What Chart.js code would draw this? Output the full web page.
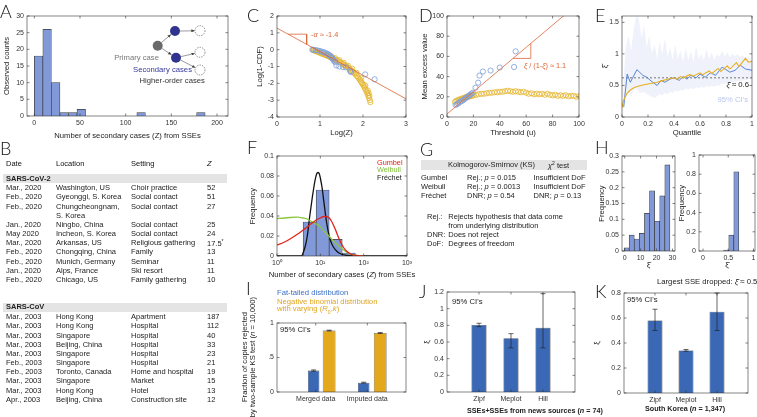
<!DOCTYPE html>
<html>
<head>
<meta charset="utf-8">
<script src="https://cdn.jsdelivr.net/npm/chart.js@4.4.1/dist/chart.umd.min.js"></script>
<style>
  body { margin: 0; background: #fff; }
  #fig { position: relative; width: 757px; height: 417px; overflow: hidden; font-family: "Liberation Sans", Arial, sans-serif; color: #222; }
  #fig canvas { position: absolute; }
  .t { position: absolute; white-space: nowrap; line-height: 1; }
  .lt { position: absolute; font-family: Lato, "Liberation Sans", sans-serif; font-weight: 300; font-size: 18px; line-height: 1; color: #111; }
  .band { position: absolute; background: #e4e4e4; }
</style>
</head>
<body>
<div id="fig"></div>
<script>
// ========= Data =========
// A: histogram of secondary cases
const aBinCenters = [4.7, 14.0, 23.4, 32.7, 42.1, 51.4, 60.8, 70.1, 79.5, 88.8, 98.2, 107.5, 116.9, 126.2, 135.6, 144.9, 154.3, 163.6, 173.0, 182.3];
const aCounts = [18, 26, 10, 1, 1, 2, 0, 0, 0, 0, 0, 0, 1, 0, 0, 0, 0, 0, 0, 1];

// C: log-log survival
const cDataX = [0.82, 0.85, 0.9, 0.95, 1.0, 1.04, 1.08, 1.11, 1.15, 1.18, 1.2, 1.23, 1.26, 1.28, 1.3, 1.32, 1.34, 1.36, 1.38, 1.45, 1.53, 1.6, 1.7, 1.72, 2.05, 2.27];
const cDataY = [0, -0.01, -0.03, -0.05, -0.08, -0.12, -0.15, -0.18, -0.22, -0.26, -0.3, -0.35, -0.42, -0.5, -0.56, -0.63, -0.7, -0.75, -0.93, -1.0, -1.03, -1.05, -1.27, -1.33, -1.47, -1.76];
const cNbX = [0.84, 0.86, 0.88, 0.90, 0.93, 0.96, 0.99, 1.02, 1.05, 1.08, 1.11, 1.14, 1.17, 1.20, 1.23, 1.26, 1.29, 1.32, 1.35, 1.38, 1.41, 1.44, 1.47, 1.50, 1.53, 1.56, 1.59, 1.62, 1.65, 1.68, 1.71, 1.74, 1.77, 1.80, 1.83, 1.86, 1.89, 1.92, 1.94, 1.96, 1.98, 2.00, 2.02, 2.04, 2.06, 2.08, 2.10, 2.12, 2.14, 2.16, 2.17,
  1.25, 1.35, 1.45, 1.55, 1.65, 1.75, 1.85, 1.95, 2.05, 2.11, 2.13, 2.15];
const cNbY = [-0.02, -0.04, -0.06, -0.08, -0.11, -0.14, -0.18, -0.21, -0.24, -0.27, -0.30, -0.33, -0.36, -0.40, -0.43, -0.47, -0.51, -0.55, -0.59, -0.63, -0.67, -0.71, -0.75, -0.80, -0.85, -0.90, -0.95, -1.00, -1.06, -1.12, -1.19, -1.26, -1.33, -1.40, -1.48, -1.57, -1.66, -1.76, -1.84, -1.92, -2.00, -2.08, -2.17, -2.27, -2.37, -2.48, -2.60, -2.73, -2.87, -3.00, -3.12,
  -0.38, -0.50, -0.62, -0.78, -0.95, -1.13, -1.38, -1.70, -2.12, -2.42, -2.58, -2.75];
const cFitX = [0, 3];
const cFitB = 1.28, cFitM = -1.4;
const cTriX = [0.26, 0.69, 0.69];
const cTriY = [0.92, 0.92, 0.31];

// D: mean excess plot
const dDataX = [6.5, 7.5, 8.5, 9.5, 10.5, 11.5, 12.5, 13.5, 14.5, 15.5, 16.5, 17.5, 18.5, 19.5, 21.6, 23.6, 24.6, 27.2, 33, 40, 50.8, 52];
const dDataY = [12, 12.5, 13.5, 14.5, 15.5, 16, 17, 18, 19, 20, 21, 22, 23, 24, 29, 34, 41, 45, 46, 49, 49.5, 65];
const dNbX = [6, 7, 8, 9, 10, 11, 12, 13, 14, 15, 16, 17, 18, 19, 20, 22, 24, 26, 28, 30, 32, 34, 36, 38, 40, 42, 44, 46, 48, 50, 52, 54, 56, 58, 60, 62, 64, 66, 68, 70, 72, 74, 76, 78, 80, 82, 84, 86, 88, 90, 92, 94, 96, 98, 100];
const dNbY = [15, 16, 16.5, 17, 17.5, 18, 18.5, 19, 19.5, 20, 20, 20.5, 21, 21, 21.5, 22, 22.5, 23, 23, 23.5, 24, 24, 24.5, 24.5, 25, 25, 25.5, 26, 25.5, 25, 25.5, 25, 24.5, 25, 24, 23, 23.5, 22.5, 23, 22.5, 23, 22, 23, 22, 21.5, 22, 21, 21.5, 21, 21.5, 20.5, 21, 21, 20, 20.5];
const dFitX = [0, 100];
const dFitB = 3, dFitM = 1.1;
const dTriX = [50, 63.5, 63.5];
const dTriY = [58, 58, 72.85];

// E: xi estimates by quantile
const eCiQ = [0.01, 0.03, 0.05, 0.07, 0.09, 0.11, 0.13, 0.15, 0.17, 0.19, 0.21, 0.23, 0.25, 0.27, 0.29, 0.31, 0.33, 0.35, 0.37, 0.39, 0.41, 0.43, 0.45, 0.47, 0.49, 0.51, 0.53, 0.55, 0.57, 0.59, 0.61, 0.63, 0.65, 0.67, 0.69, 0.71, 0.73, 0.75, 0.77, 0.79, 0.81, 0.83, 0.85, 0.87, 0.89, 0.91, 0.93, 0.95, 0.97, 1.0];
const eCiHi = [0.55, 1.1, 1.3, 1.05, 1.4, 1.6, 1.55, 1.25, 1.45, 1.1, 1.3, 1.0, 1.15, 0.92, 1.2, 1.0, 1.25, 0.95, 1.1, 0.9, 1.15, 0.92, 1.05, 0.88, 1.1, 0.9, 1.05, 0.88, 1.12, 0.92, 1.0, 0.9, 1.08, 0.92, 1.02, 0.9, 1.0, 0.95, 1.05, 0.96, 1.02, 0.95, 1.0, 0.96, 1.0, 0.95, 0.98, 0.93, 0.95, 0.9];
const eCiLo = [0.05, 0.3, 0.38, 0.33, 0.42, 0.45, 0.4, 0.38, 0.4, 0.36, 0.34, 0.32, 0.3, 0.33, 0.36, 0.34, 0.38, 0.36, 0.4, 0.38, 0.42, 0.4, 0.43, 0.41, 0.45, 0.43, 0.46, 0.44, 0.47, 0.45, 0.48, 0.46, 0.49, 0.47, 0.5, 0.48, 0.5, 0.5, 0.53, 0.52, 0.55, 0.54, 0.56, 0.55, 0.58, 0.57, 0.58, 0.58, 0.6, 0.6];
const eHillQ = [0.013, 0.04, 0.064, 0.115, 0.16, 0.19, 0.23, 0.27, 0.3, 0.33, 0.37, 0.4, 0.44, 0.47, 0.5, 0.53, 0.57, 0.6, 0.64, 0.68, 0.72, 0.77, 0.83, 0.87, 0.91, 0.95, 1.0];
const eHill = [0.16, 0.68, 0.55, 0.75, 0.66, 0.63, 0.56, 0.5, 0.58, 0.55, 0.6, 0.62, 0.58, 0.64, 0.6, 0.66, 0.62, 0.68, 0.63, 0.7, 0.66, 0.79, 0.71, 0.74, 0.82, 0.76, 0.74];
const eZipfQ = [0, 0.01, 0.02, 0.04, 0.06, 0.08, 0.1, 0.13, 0.17, 0.22, 0.27, 0.32, 0.37, 0.4, 0.42, 0.45, 0.47, 0.52, 0.55, 0.6, 0.62, 0.67, 0.69, 0.74, 0.76, 0.81, 0.83, 0.88, 0.9, 0.95, 0.97, 1.0];
const eZipf = [0.15, 0.25, 0.3, 0.38, 0.42, 0.45, 0.47, 0.49, 0.51, 0.53, 0.55, 0.58, 0.61, 0.62, 0.6, 0.64, 0.62, 0.67, 0.65, 0.7, 0.67, 0.73, 0.69, 0.77, 0.72, 0.81, 0.76, 0.86, 0.8, 0.93, 0.87, 0.88];
const eXiX = [0, 1];
const xiHat = 0.62;

// F: fitted extreme value distributions
const fBinX = [5.66, 11.3, 22.6, 45.3];
const fBinF = [0.034, 0.066, 0.0166, 0.003];
const fGumX = [1, 1.5, 2, 3, 4, 5, 6, 7, 8, 10, 12, 14, 16, 18, 20, 23, 26, 30, 35, 40, 50, 60, 80, 100];
const fGumY = [0.011, 0.014, 0.017, 0.022, 0.026, 0.029, 0.032, 0.034, 0.036, 0.038, 0.0395, 0.0395, 0.038, 0.035, 0.031, 0.025, 0.019, 0.013, 0.008, 0.005, 0.002, 0.0008, 0.0002, 0];
const fWeiX = [1, 1.5, 2, 3, 4, 5, 6, 8, 10, 12, 15, 20, 25, 30, 40, 50, 70, 100];
const fWeiY = [0.0375, 0.038, 0.0385, 0.0388, 0.038, 0.037, 0.035, 0.032, 0.029, 0.025, 0.021, 0.015, 0.011, 0.008, 0.004, 0.002, 0.0005, 0];
const fFreX = [1, 3, 3.7, 4, 4.5, 5, 5.7, 6.5, 7.5, 8.2, 8.9, 9.5, 10, 11, 12, 13, 14, 16, 18, 20, 25, 30, 40, 60, 100, 1000];
const fFreY = [0, 0, 0, 0.003, 0.01, 0.02, 0.04, 0.058, 0.075, 0.082, 0.0835, 0.082, 0.078, 0.068, 0.055, 0.043, 0.033, 0.02, 0.013, 0.009, 0.004, 0.002, 0.0006, 0.0001, 0, 0];
const fTicks = [1, 10, 100, 1000];
const fTickLabels = ['10⁰', '10¹', '10²', '10³'];

// H: bootstrap xi histograms
const hLeftX = [1.2, 4.4, 7.6, 10.8, 14, 17.2, 20.4, 23.6, 26.8];
const hLeftF = [0.01, 0.05, 0.038, 0.056, 0.119, 0.19, 0.094, 0.174, 0.272];
const hRightX = [0.46, 0.56, 0.66];
const hRightF = [0.01, 0.165, 0.825];

// I: KS rejection fractions
const iNames = ['Merged data', 'Imputed data'];
const iTicks = [1, 2];
const iBlueX = [0.96, 1.93], iBlue = [0.31, 0.135], iBlueLo = [0.30, 0.128], iBlueHi = [0.32, 0.142];
const iGoldX = [1.26, 2.25], iGold = [0.89, 0.855], iGoldLo = [0.884, 0.849], iGoldHi = [0.896, 0.861];

// J, K: xi by estimator
const estNames = ['Zipf', 'Meplot', 'Hill'];
const estX = [1, 2, 3];
const jVal = [0.805, 0.645, 0.77], jLo = [0.785, 0.53, 0.53], jHi = [0.825, 0.70, 1.18];
const kVal = [0.58, 0.34, 0.65], kLo = [0.50, 0.334, 0.50], kHi = [0.67, 0.348, 0.80];

// B table
const bHead = ['Date', 'Location', 'Setting', '<i>Z</i>'];
const bCov2 = [
  ['Mar., 2020', 'Washington, US', 'Choir practice', '52'],
  ['Feb., 2020', 'Gyeonggi, S. Korea', 'Social contact', '51'],
  ['Feb., 2020', 'Chungcheongnam,', 'Social contact', '27'],
  ['', 'S. Korea', '', ''],
  ['Jan., 2020', 'Ningbo, China', 'Social contact', '25'],
  ['May 2020', 'Incheon, S. Korea', 'Social contact', '24'],
  ['Mar., 2020', 'Arkansas, US', 'Religious gathering', '17.5<sup style="font-size:5px">*</sup>'],
  ['Feb., 2020', 'Chongqing, China', 'Family', '13'],
  ['Feb., 2020', 'Munich, Germany', 'Seminar', '11'],
  ['Jan., 2020', 'Alps, France', 'Ski resort', '11'],
  ['Feb., 2020', 'Chicago, US', 'Family gathering', '10']
];
const bCov1 = [
  ['Mar., 2003', 'Hong Kong', 'Apartment', '187'],
  ['Mar., 2003', 'Hong Kong', 'Hospital', '112'],
  ['Mar., 2003', 'Singapore', 'Hospital', '40'],
  ['Mar., 2003', 'Beijing, China', 'Hospital', '33'],
  ['Mar., 2003', 'Singapore', 'Hospital', '23'],
  ['Feb., 2003', 'Singapore', 'Hospital', '21'],
  ['Feb., 2003', 'Toronto, Canada', 'Home and hospital', '19'],
  ['Mar., 2003', 'Singapore', 'Market', '15'],
  ['Mar., 2003', 'Hong Kong', 'Hotel', '13'],
  ['Apr., 2003', 'Beijing, China', 'Construction site', '12']
];

// ========= Helpers =========
Chart.defaults.font.family = '"Liberation Sans", Arial, sans-serif';
Chart.defaults.font.size = 7;
Chart.defaults.color = '#333';

const fig = document.getElementById('fig');
const HIST = '#8199d8', EDGE = '#3c3c3c', BLUE = '#3a68b4', GOLD = '#e3a81c', RED = '#dd6436';
const pts = (xs, ys) => xs.map((x, i) => ({ x, y: ys[i] }));
const line = (xs, b, m) => xs.map(x => ({ x, y: b + m * x }));

function ax(min, max, step, names) {
  const a = {
    type: 'linear', min, max, offset: false,
    grid: { display: false, drawTicks: false }, border: { display: false },
    ticks: { stepSize: step, includeBounds: false, padding: 3, maxRotation: 0, autoSkip: false,
      callback: v => String(+(+v).toFixed(4)) }
  };
  // fixed tick positions with text labels (bar categories)
  if (names) {
    a.afterBuildTicks = s => { s.ticks = names[0].map(v => ({ value: v })); };
    a.ticks.callback = (v, i) => names[1][i];
  }
  return a;
}

// box around the plot area + inward tick marks (matlab style)
Chart.register({
  id: 'box',
  afterDatasetsDraw(chart) {
    const { ctx, chartArea: a } = chart;
    const sx = chart.scales.x, sy = chart.scales.y;
    const tl = 2.5;
    ctx.save();
    ctx.strokeStyle = '#333';
    ctx.lineWidth = 0.6;
    ctx.strokeRect(a.left, a.top, a.right - a.left, a.bottom - a.top);
    ctx.beginPath();
    sx.ticks.forEach(t => {
      const p = sx.getPixelForValue(t.value);
      ctx.moveTo(p, a.bottom); ctx.lineTo(p, a.bottom - tl);
      ctx.moveTo(p, a.top); ctx.lineTo(p, a.top + tl);
    });
    sy.ticks.forEach(t => {
      const p = sy.getPixelForValue(t.value);
      ctx.moveTo(a.left, p); ctx.lineTo(a.left + tl, p);
      ctx.moveTo(a.right, p); ctx.lineTo(a.right - tl, p);
    });
    ctx.stroke();
    ctx.restore();
  }
});

// error bars from dataset.errLo / dataset.errHi
Chart.register({
  id: 'err',
  afterDatasetsDraw(chart) {
    const { ctx } = chart;
    const sy = chart.scales.y;
    chart.data.datasets.forEach((ds, i) => {
      if (!ds.errLo) return;
      const meta = chart.getDatasetMeta(i);
      ctx.save();
      ctx.strokeStyle = '#222';
      ctx.lineWidth = 0.7;
      ctx.beginPath();
      meta.data.forEach((el, j) => {
        const lo = sy.getPixelForValue(ds.errLo[j]), hi = sy.getPixelForValue(ds.errHi[j]);
        ctx.moveTo(el.x, lo); ctx.lineTo(el.x, hi);
        ctx.moveTo(el.x - 2.5, lo); ctx.lineTo(el.x + 2.5, lo);
        ctx.moveTo(el.x - 2.5, hi); ctx.lineTo(el.x + 2.5, hi);
      });
      ctx.stroke();
      ctx.restore();
    });
  }
});

// box = plot area in page px, pad = room around it for ticks and titles
function mk(box, pad, cfg, xTitle, yTitle) {
  const c = document.createElement('canvas');
  const w = box.r - box.l + pad.l + pad.r, h = box.b - box.t + pad.t + pad.b;
  const cl = box.l - pad.l, ct = box.t - pad.t;
  c.width = w; c.height = h;
  Object.assign(c.style, { left: cl + 'px', top: ct + 'px', width: w + 'px', height: h + 'px' });
  fig.appendChild(c);
  const o = cfg.options;
  Object.assign(o, { responsive: false, maintainAspectRatio: false, animation: false, events: [],
    layout: { padding: { top: pad.t, right: pad.r, left: 0, bottom: 0 } } });
  o.plugins = Object.assign({ legend: { display: false }, tooltip: { enabled: false } }, o.plugins || {});
  const tf = { size: 7.7 }, lh = 7.7 * 1.2;
  if (xTitle) o.scales.x.title = { display: true, text: xTitle[0], font: tf, color: '#222',
    padding: { top: 0, bottom: ct + h - xTitle[1] - lh / 2 } };
  if (yTitle) o.scales.y.title = { display: true, text: yTitle[0], font: tf, color: '#222',
    padding: { top: yTitle[1] - cl - lh / 2, bottom: 0 } };
  o.scales.x.afterFit = s => { s.height = pad.b; s.paddingLeft = 0; s.paddingRight = 0; };
  o.scales.y.afterFit = s => { s.width = pad.l; s.paddingTop = 0; s.paddingBottom = 0; };
  return new Chart(c, cfg);
}

function txt(x, y, html, o) {
  o = o || {};
  const d = document.createElement('div');
  d.className = 't';
  d.innerHTML = html;
  d.style.left = x + 'px';
  d.style.top = y + 'px';
  d.style.fontSize = (o.size || 7.7) + 'px';
  if (o.color) d.style.color = o.color;
  if (o.bold) d.style.fontWeight = 'bold';
  if (o.center) d.style.textAlign = 'center';
  const tx = o.align === 'right' ? '-100%' : (o.align === 'center' ? '-50%' : '0');
  d.style.transform = 'translate(' + tx + ',-50%)' + (o.rot ? ' rotate(-90deg)' : '');
  fig.appendChild(d);
  return d;
}

function band(l, t, w, h) {
  const d = document.createElement('div');
  d.className = 'band';
  Object.assign(d.style, { left: l + 'px', top: t + 'px', width: w + 'px', height: h + 'px' });
  fig.appendChild(d);
}

// ========= A =========
mk({ l: 27, t: 16, r: 228, b: 116 }, { l: 27, t: 6, r: 10, b: 28 }, {
  type: 'bar',
  data: { datasets: [{ data: pts(aBinCenters, aCounts), backgroundColor: HIST, borderColor: EDGE,
    borderWidth: 0.7, barPercentage: 1, categoryPercentage: 1 }] },
  options: { scales: { x: ax(-8, 212, 50), y: ax(0, 30, 5) } }
}, ['Number of secondary cases (Z) from SSEs', 136], ['Observed counts', 7]);

// inset diagram
fig.insertAdjacentHTML('beforeend', `
<svg width="757" height="417" style="position:absolute;left:0;top:0" xmlns="http://www.w3.org/2000/svg">
  <defs><marker id="ah" markerUnits="userSpaceOnUse" markerWidth="3.5" markerHeight="3" refX="3.2" refY="1.5" orient="auto">
    <path d="M0,0 L3.5,1.5 L0,3 z" fill="#444"/></marker></defs>
  <g stroke="#555" stroke-width="0.6" marker-end="url(#ah)">
    <line x1="161.5" y1="42.5" x2="170.8" y2="34.6"/>
    <line x1="161.9" y1="48.4" x2="171.4" y2="54.7"/>
    <line x1="180" y1="31" x2="194.5" y2="30.8"/>
    <line x1="180.9" y1="56.6" x2="194.6" y2="53.5"/>
    <line x1="180.4" y1="60" x2="195.1" y2="67.5"/>
  </g>
  <circle cx="157.7" cy="45.7" r="5" fill="#6a6a6a"/>
  <circle cx="175" cy="31" r="5" fill="#30348f"/>
  <circle cx="176" cy="57.7" r="5" fill="#30348f"/>
  <g fill="none" stroke="#444" stroke-width="0.6" stroke-dasharray="1.4,1.1">
    <circle cx="200" cy="30.7" r="5"/><circle cx="200" cy="52.3" r="5"/><circle cx="200" cy="70" r="5"/>
  </g>
</svg>`);
txt(159, 57.5, 'Primary case', { align: 'right', color: '#777' });
txt(133, 70, 'Secondary cases', { color: '#34379a' });
txt(139.5, 81, 'Higher-order cases', { color: '#333' });

// ========= C =========
mk({ l: 277, t: 16, r: 406, b: 117 }, { l: 24, t: 6, r: 6, b: 22 }, {
  type: 'scatter',
  data: { datasets: [
    { type: 'line', data: line(cFitX, cFitB, cFitM), borderColor: RED, borderWidth: 0.8, pointRadius: 0, order: 0 },
    { type: 'line', data: pts(cTriX, cTriY), borderColor: RED, borderWidth: 0.8, pointRadius: 0, order: 0 },
    { data: pts(cDataX, cDataY), borderColor: '#7b9ddb', backgroundColor: 'rgba(0,0,0,0)', pointRadius: 2.6, borderWidth: 0.8, order: 1 },
    { data: pts(cNbX, cNbY), borderColor: '#e5b52e', backgroundColor: 'rgba(0,0,0,0)', pointRadius: 2.6, borderWidth: 0.8, order: 2 }
  ] },
  options: { scales: { x: ax(0, 3, 1), y: ax(-4, 2, 1) } }
}, ['Log(Z)', 133.3], ['Log(1-CDF)', 260]);
txt(311, 35, '-<i>α</i> ≈ -1.4', { color: RED, size: 7.3 });

// ========= D =========
mk({ l: 447, t: 16, r: 579, b: 117 }, { l: 30, t: 6, r: 8, b: 22 }, {
  type: 'scatter',
  data: { datasets: [
    { type: 'line', data: line(dFitX, dFitB, dFitM), borderColor: RED, borderWidth: 0.8, pointRadius: 0, order: 0 },
    { type: 'line', data: pts(dTriX, dTriY), borderColor: RED, borderWidth: 0.8, pointRadius: 0, order: 0 },
    { data: pts(dDataX, dDataY), borderColor: '#7b9ddb', backgroundColor: 'rgba(0,0,0,0)', pointRadius: 2.6, borderWidth: 0.8, order: 1 },
    { data: pts(dNbX, dNbY), borderColor: '#e5b52e', backgroundColor: 'rgba(0,0,0,0)', pointRadius: 2.6, borderWidth: 0.8, order: 2 }
  ] },
  options: { scales: { x: ax(0, 100, 20), y: ax(0, 100, 20) } }
}, ['Threshold (u)', 132.7], ['Mean excess value', 425]);
txt(524, 66, '<i>ξ</i> / (1-<i>ξ</i>) ≈ 1.1', { color: RED, size: 7.3 });

// ========= E =========
mk({ l: 622, t: 16, r: 752, b: 117 }, { l: 22, t: 6, r: 4, b: 22 }, {
  type: 'line',
  data: { datasets: [
    { data: pts(eCiQ, eCiHi), borderColor: 'rgba(0,0,0,0)', pointRadius: 0, fill: '+1', backgroundColor: 'rgba(125,150,225,0.12)', order: 5 },
    { data: pts(eCiQ, eCiLo), borderColor: 'rgba(0,0,0,0)', pointRadius: 0, fill: false, order: 5 },
    { data: pts(eXiX, [xiHat, xiHat]), borderColor: '#555', borderWidth: 0.8, borderDash: [2, 2], pointRadius: 0, order: 2 },
    { data: pts(eHillQ, eHill), borderColor: '#4a78c8', borderWidth: 0.9, pointRadius: 0, order: 1 },
    { data: pts(eZipfQ, eZipf), borderColor: '#e9b021', borderWidth: 1.1, pointRadius: 0, order: 0 }
  ] },
  options: { scales: { x: ax(0, 1, 0.2), y: ax(0, 1.6, 0.5) } }
}, ['Quantile', 133.3], ['ξ̂', 605]);
txt(749, 85, '<i>ξ̂</i> ≈ 0.6', { align: 'right', size: 7.7 });
txt(748, 100, '95% CI\'s', { align: 'right', color: '#b8c6ec' });

// ========= F =========
mk({ l: 277, t: 156, r: 407, b: 256 }, { l: 30, t: 6, r: 6, b: 14 }, {
  type: 'bar',
  data: { datasets: [
    { type: 'line', data: pts(fGumX, fGumY), borderColor: '#e2231a', borderWidth: 1.3, pointRadius: 0, cubicInterpolationMode: 'monotone', order: 0 },
    { type: 'line', data: pts(fWeiX, fWeiY), borderColor: '#8cc63e', borderWidth: 1.3, pointRadius: 0, cubicInterpolationMode: 'monotone', order: 0 },
    { type: 'line', data: pts(fFreX, fFreY), borderColor: '#111', borderWidth: 1.3, pointRadius: 0, cubicInterpolationMode: 'monotone', order: 0 },
    { data: pts(fBinX, fBinF), backgroundColor: HIST, borderColor: EDGE, borderWidth: 0.7, barPercentage: 1, categoryPercentage: 1, order: 5 }
  ] },
  options: { scales: {
    x: { type: 'logarithmic', min: 1, max: 1000, offset: false, grid: { display: false, drawTicks: false }, border: { display: false },
      afterBuildTicks: s => { s.ticks = fTicks.map(v => ({ value: v, major: true })); },
      ticks: { padding: 3, maxRotation: 0, autoSkip: false, callback: (v, i) => fTickLabels[i] } },
    y: ax(0, 0.1, 0.02)
  } }
}, null, ['Frequency', 253.3]);
txt(342, 275, 'Number of secondary cases (<i>Z</i>) from SSEs', { align: 'center' });
txt(377, 162.5, 'Gumbel', { color: '#e2231a', size: 7.3 });
txt(377, 170, 'Weibull', { color: '#7fbf33', size: 7.3 });
txt(377, 177.5, 'Fréchet', { color: '#222', size: 7.3 });

// ========= G =========
band(421, 160, 166, 9.5);
txt(448, 165, 'Kolmogorov-Smirnov (KS)', { size: 7.5 });
txt(548, 165, '<i>χ</i><sup style="font-size:5px">2</sup> test', { size: 7.5 });
[['Gumbel', 'Rej.; <i>p</i> = 0.015', 'Insufficient DoF'],
 ['Weibull', 'Rej.; <i>p</i> = 0.0013', 'Insufficient DoF'],
 ['Fréchet', 'DNR; <i>p</i> = 0.54', 'DNR; <i>p</i> = 0.13']].forEach((r, i) => {
  const y = 178.3 + 9 * i;
  txt(421, y, r[0], { size: 7.5 });
  txt(467, y, r[1], { size: 7.5 });
  txt(533.5, y, r[2], { size: 7.5 });
});
txt(427, 217.3, 'Rej.:', { size: 7.5 });
txt(448.3, 217.3, 'Rejects hypothesis that data come', { size: 7.5 });
txt(448.3, 226.3, 'from underlying distribution', { size: 7.5 });
txt(427, 235.3, 'DNR:', { size: 7.5 });
txt(448.3, 235.3, 'Does not reject', { size: 7.5 });
txt(427, 244.3, 'DoF:', { size: 7.5 });
txt(448.3, 244.3, 'Degrees of freedom', { size: 7.5 });

// ========= H =========
mk({ l: 622, t: 156, r: 675, b: 251 }, { l: 26, t: 6, r: 4, b: 20 }, {
  type: 'bar',
  data: { datasets: [{ data: pts(hLeftX, hLeftF), backgroundColor: HIST, borderColor: EDGE, borderWidth: 0.7, barPercentage: 1, categoryPercentage: 1 }] },
  options: { scales: { x: ax(-1.7, 31.6, 10), y: ax(0, 0.3, 0.05) } }
}, ['ξ̂', 265], ['Frequency', 602]);
mk({ l: 699, t: 155, r: 755, b: 251 }, { l: 22, t: 6, r: 2, b: 20 }, {
  type: 'bar',
  data: { datasets: [{ data: pts(hRightX, hRightF), backgroundColor: HIST, borderColor: EDGE, borderWidth: 0.7, barPercentage: 1, categoryPercentage: 1 }] },
  options: { scales: { x: ax(-0.08, 1.03, 0.5), y: ax(0, 1, 0.2) } }
}, ['ξ̂', 265], ['Frequency', 682]);
txt(657, 282, 'Largest SSE dropped: <i>ξ̂</i> ≈ 0.5');

// ========= I =========
txt(277, 293.3, 'Fat-tailed distribution', { color: '#3b6fc6' });
txt(277, 301.7, 'Negative binomial distribution', { color: '#e0a520' });
txt(277, 310.1, 'with varying (<i>R</i><sub style="font-size:5px">0</sub>,<i>k</i>)', { color: '#e0a520' });
txt(249, 357, 'Fraction of copies rejected<br>by two-sample KS test (<i>n</i> = 10,000)', { align: 'center', rot: true, center: true });
mk({ l: 277, t: 323, r: 406, b: 392 }, { l: 8, t: 6, r: 4, b: 16 }, {
  type: 'bar',
  data: { datasets: [
    { data: pts(iBlueX, iBlue), errLo: iBlueLo, errHi: iBlueHi, backgroundColor: BLUE, borderColor: '#2a2a2a', borderWidth: 0.6, barPercentage: 0.74, categoryPercentage: 1, grouped: false },
    { data: pts(iGoldX, iGold), errLo: iGoldLo, errHi: iGoldHi, backgroundColor: GOLD, borderColor: '#2a2a2a', borderWidth: 0.6, barPercentage: 0.82, categoryPercentage: 1, grouped: false }
  ] },
  options: { scales: { x: ax(0.25, 2.75, 1, [iTicks, iNames]), y: ax(0, 1, 0.5) } }
});
txt(280, 330, '95% CI\'s');

// ========= J =========
mk({ l: 447, t: 292, r: 575, b: 392 }, { l: 28, t: 6, r: 4, b: 16 }, {
  type: 'bar',
  data: { datasets: [{ data: pts(estX, jVal), errLo: jLo, errHi: jHi, backgroundColor: BLUE, borderColor: '#2a2a2a', borderWidth: 0.6, barPercentage: 0.47, categoryPercentage: 1 }] },
  options: { scales: { x: ax(0, 4, 1, [estX, estNames]), y: ax(0, 1.2, 0.2) } }
}, null, ['ξ', 427]);
txt(452, 301.7, '95% CI\'s');
txt(467, 411, 'SSEs+SSEs from news sources (<i>n</i> = 74)', { bold: true, size: 7.2 });

// ========= K =========
mk({ l: 624, t: 293, r: 748, b: 393 }, { l: 32, t: 6, r: 4, b: 16 }, {
  type: 'bar',
  data: { datasets: [{ data: pts(estX, kVal), errLo: kLo, errHi: kHi, backgroundColor: BLUE, borderColor: '#2a2a2a', borderWidth: 0.6, barPercentage: 0.48, categoryPercentage: 1 }] },
  options: { scales: { x: ax(0, 4, 1, [estX, estNames]), y: ax(0, 0.8, 0.2) } }
}, null, ['ξ', 597]);
txt(627, 300, '95% CI\'s');
txt(685, 409, 'South Korea (<i>n</i> = 1,347)', { align: 'center', bold: true, size: 7.2 });

// ========= B table =========
const bCols = [6, 56, 131, 207];
bHead.forEach((h, c) => txt(bCols[c], 164.3, h, { size: 7.5, color: '#111' }));
band(3, 174, 224, 9);
txt(6, 178.5, '<b>SARS-CoV-2</b>', { size: 7.5 });
bCov2.forEach((r, i) => r.forEach((s, c) => s && txt(bCols[c], 188.3 + 9.15 * i, s, { size: 7.5 })));
band(3, 302.5, 224, 9);
txt(6, 307, '<b>SARS-CoV</b>', { size: 7.5 });
bCov1.forEach((r, i) => r.forEach((s, c) => s && txt(bCols[c], 317.3 + 9.15 * i, s, { size: 7.5 })));

// ========= Panel letters =========
[['A', 0, 4], ['B', 0, 141], ['C', 247, 8], ['D', 419, 8], ['E', 595, 8], ['F', 247, 140],
 ['G', 420, 142], ['H', 595, 140], ['I', 246, 281], ['J', 419, 284], ['K', 595, 284]].forEach(([s, x, y]) => {
  const d = document.createElement('div');
  d.className = 'lt';
  d.textContent = s;
  d.style.left = x + 'px';
  d.style.top = (y - 2.5) + 'px';
  fig.appendChild(d);
});
</script>
</body>
</html>
